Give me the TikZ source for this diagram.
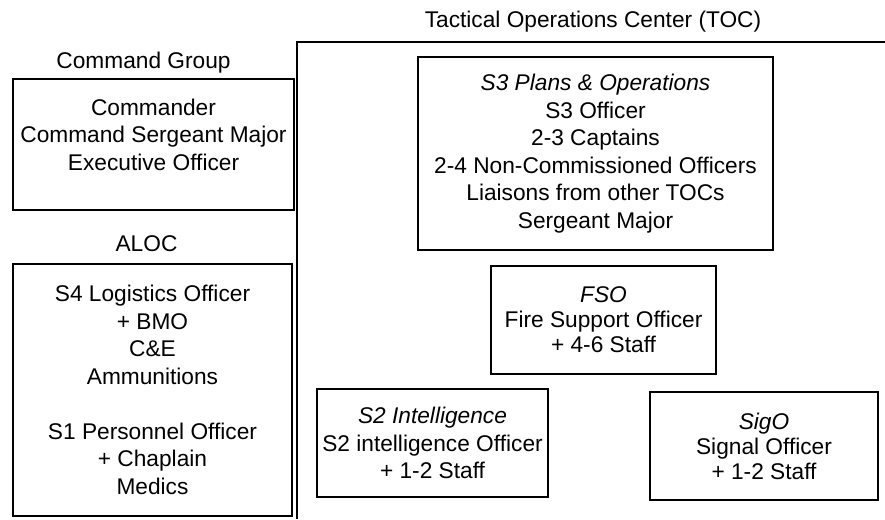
\documentclass[tikz,border=0pt]{standalone}
\usepackage{fontspec}
\setmainfont{Liberation Sans}
\usetikzlibrary{positioning, calc}

\begin{document}
\begin{tikzpicture}[x = 1pt, y = -1pt, line width = 1.1pt,
	box/.style = {draw, align = center, inner sep = 0pt, font = \fontsize{22.7}{27.5}\selectfont},
	tightbox/.style = {box, font = \fontsize{22.7}{25}\selectfont},
	grouplabel/.style = {inner sep = 0pt, text depth = 5pt, font = \fontsize{22.7}{27.5}\selectfont}]
		\useasboundingbox (0,0) rectangle (885,519);
		\node[box, minimum width = 281pt, text height = 91pt, text depth = 40pt] (cmd) at (153.5,144.5) {Commander\\Command Sergeant Major\\Executive Officer};
		\node[grouplabel, above = 4pt of cmd, xshift = -10pt] (lab_cmd) {Command Group};
		\node[box, minimum width = 279pt, minimum height = 252pt] (aloc) at (152.5,390) {S4 Logistics Officer\\+ BMO\\C\&E\\Ammunitions\\[27.5pt]S1 Personnel Officer\\+ Chaplain\\Medics};
		\node[grouplabel, above = 6pt of aloc, xshift = -6pt] (lab_aloc) {ALOC};
		\coordinate (tocNW) at (297,42);
		\coordinate (tocNE) at (885,42);
		\coordinate (tocSW) at (297,519);
		\coordinate (tocTop) at ($(tocNW)!0.5!(tocNE)$);
		\draw (tocSW) -- (tocNW) -- (tocNE);
		\node[grouplabel, above = 9pt of tocTop, xshift = 2pt] (lab_toc) {Tactical Operations Center (TOC)};
		\node[box, minimum width = 355pt, minimum height = 193pt] (s3) at (595.5,153.5) {\textit{S3 Plans \& Operations}\\S3 Officer\\2-3 Captains\\2-4 Non-Commissioned Officers\\Liaisons from other TOCs\\Sergeant Major};
		\node[tightbox, minimum width = 225pt, minimum height = 108pt] (fso) at (603.5,320) {\textit{FSO}\\Fire Support Officer\\+ 4-6 Staff};
		\node[box, minimum width = 231pt, minimum height = 108pt] (s2) at (432.5,443) {\textit{S2 Intelligence}\\S2 intelligence Officer\\+ 1-2 Staff};
		\node[tightbox, minimum width = 228pt, minimum height = 108pt] (sigo) at (764,446) {\textit{SigO}\\Signal Officer\\+ 1-2 Staff};
	\end{tikzpicture}
\end{document}
